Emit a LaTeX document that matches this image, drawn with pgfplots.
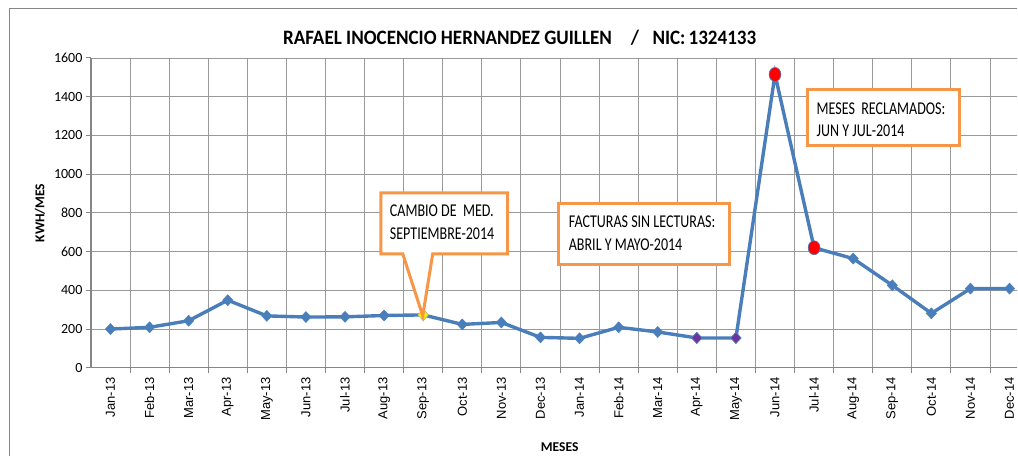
\documentclass[border=0pt]{standalone}
\usepackage{graphicx}
\usepackage{pgfplots}
\pgfplotsset{compat=1.18}
\usepackage{fontspec}
\setmainfont{Carlito}
\newfontfamily\arialf{Liberation Sans}
\definecolor{lineblue}{HTML}{4A7EBB}
\definecolor{gridg}{HTML}{999999}
\definecolor{axg}{HTML}{868686}
\definecolor{orng}{HTML}{F79646}
\definecolor{purp}{HTML}{7030A0}
\newcommand{\bx}[1]{\scalebox{0.78}[1]{#1}}
\begin{document}
\begin{tikzpicture}
\begin{scope}[x=1pt,y=-1pt]
\useasboundingbox (0,0) rectangle (1018,456);
\draw[axg, line width=1pt] (10,456) -- (10,8.5) -- (1018,8.5);
\end{scope}
\begin{axis}[
  at={(91pt,-368pt)}, anchor=south west,
  width=927pt, height=310pt, scale only axis,
  xmin=-0.5, xmax=23.2, ymin=0, ymax=1600,
  axis x line*=bottom, axis y line*=left,
  axis line style={axg, line width=1.3pt},
  tick align=outside, major tick length=5pt,
  tick style={axg, line width=1pt},
  ytick={0,200,...,1600}, ymajorgrids,
  xtick={0.5,1.5,...,22.5}, xticklabels={}, xmajorgrids,
  grid style={gridg, line width=0.9pt},
  /pgf/number format/assume math mode=true,
  /pgf/number format/1000 sep={},
  yticklabel style={font=\fontsize{14}{14}\selectfont, text=black},
  xticklabel shift=6pt,
  extra x ticks={0,1,...,23},
  extra x tick labels={Jan-13,Feb-13,Mar-13,Apr-13,May-13,Jun-13,Jul-13,Aug-13,Sep-13,Oct-13,Nov-13,Dec-13,Jan-14,Feb-14,Mar-14,Apr-14,May-14,Jun-14,Jul-14,Aug-14,Sep-14,Oct-14,Nov-14,Dec-14},
  extra x tick style={major tick length=0pt, grid=none,
     xticklabel style={font=\arialf\fontsize{13}{13}\selectfont, rotate=90, anchor=east, text=black}},
  clip=false,
]
\addplot[lineblue, line width=3.4pt, mark=diamond*, mark size=5.5pt,
  mark options={fill=lineblue, draw=lineblue, line width=0.5pt, xscale=1.25}]
coordinates {
(0,200) (1,209) (2,243) (3,349) (4,268) (5,262) (6,263) (7,270) (8,273)
(9,224) (10,234) (11,157) (12,152) (13,209) (14,185) (15,154) (16,154)
(17,1515) (18,620) (19,564) (20,426) (21,281) (22,409) (23,409)
};
\addplot[only marks, mark=diamond*, mark size=5.5pt,
  mark options={fill=yellow, draw=yellow!70!lineblue, line width=0.6pt, xscale=1.25}]
coordinates {(8,273)};
\addplot[only marks, mark=diamond*, mark size=5.5pt,
  mark options={fill=purp, draw=lineblue, line width=0.6pt, xscale=1.25}]
coordinates {(15,154) (16,154)};
\addplot[only marks, mark=*, mark size=7pt,
  mark options={fill=red, draw=lineblue, line width=0.6pt, xscale=0.85}]
coordinates {(17,1515) (18,620)};
\end{axis}
\begin{scope}[x=1pt,y=-1pt]
\node[anchor=base west, inner sep=0pt, font=\bfseries\fontsize{20.5}{20.5}\selectfont] at (283,45)
  {\scalebox{0.93}[1]{RAFAEL INOCENCIO HERNANDEZ GUILLEN\hspace{1.0em}/\hspace{0.7em}NIC:\,1324133}};
\node[rotate=90, font=\bfseries\fontsize{13.5}{13.5}\selectfont] at (40,213) {KWH/MES};
\node[anchor=base, inner sep=0pt, font=\bfseries\fontsize{13.5}{13.5}\selectfont] at (560,452) {MESES};
% callout 1
\draw[orng, line width=3pt, fill=white, line join=miter]
  (381,193) -- (508,193) -- (508,254) -- (433,254) -- (423,316) -- (403,254) -- (381,254) -- cycle;
\node[anchor=base west, inner sep=0pt, font=\fontsize{18}{18}\selectfont] at (390,217) {\bx{CAMBIO DE\ \ MED.}};
\node[anchor=base west, inner sep=0pt, font=\fontsize{18}{18}\selectfont] at (390,240) {\bx{SEPTIEMBRE-2014}};
% box 2
\draw[orng, line width=3pt, fill=white] (559,204) rectangle (730,265);
\node[anchor=base west, inner sep=0pt, font=\fontsize{18}{18}\selectfont] at (569,228) {\bx{FACTURAS SIN LECTURAS:}};
\node[anchor=base west, inner sep=0pt, font=\fontsize{18}{18}\selectfont] at (569,251) {\bx{ABRIL Y MAYO-2014}};
% box 3
\draw[orng, line width=3pt, fill=white] (808,90) rectangle (960,146);
\node[anchor=base west, inner sep=0pt, font=\fontsize{18}{18}\selectfont] at (817,115) {\bx{MESES\ \ RECLAMADOS:}};
\node[anchor=base west, inner sep=0pt, font=\fontsize{18}{18}\selectfont] at (817,137) {\bx{JUN Y JUL-2014}};
\end{scope}
\end{tikzpicture}
\end{document}
